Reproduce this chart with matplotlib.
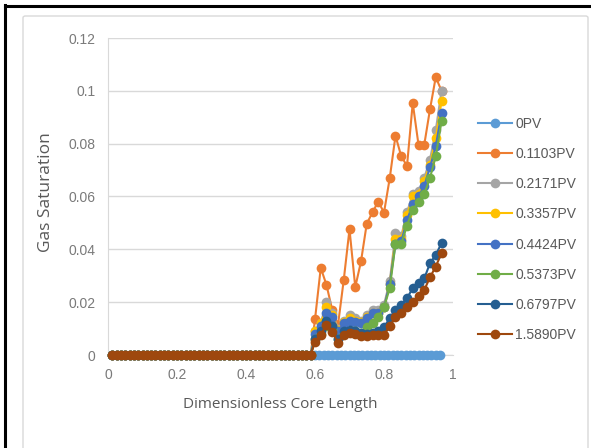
import matplotlib.pyplot as plt
from matplotlib.patches import FancyBboxPatch
from matplotlib.lines import Line2D

# grid positions: fine step before the front, coarser step behind it
x_head = [round(0.0125 * k, 4) for k in range(1, 48)]          # 0.0125 .. 0.5875
x_tail_fine = [round(0.6 + 0.0125 * k, 4) for k in range(30)]  # 0.6 .. 0.9625
x_tail = [round(0.6 + k / 60, 4) for k in range(23)]           # 0.6 .. 0.9667

labels = ["0PV", "0.1103PV", "0.2171PV", "0.3357PV",
          "0.4424PV", "0.5373PV", "0.6797PV", "1.5890PV"]
colors = ["#5B9BD5", "#ED7D31", "#A5A5A5", "#FFC000",
          "#4472C4", "#70AD47", "#255E91", "#9E480E"]

# gas saturation behind x = 0.6
tail_0pv = [0.0] * 30
tail_01103 = [0.0135, 0.033, 0.0265, 0.017, 0.0114, 0.0284, 0.0476, 0.0257, 0.0354, 0.0497,
              0.054, 0.0581, 0.0539, 0.067, 0.083, 0.0752, 0.0716, 0.0954, 0.0796, 0.0796,
              0.093, 0.1052, 0.100]
tail_02171 = [0.009, 0.012, 0.020, 0.016, 0.010, 0.013, 0.015, 0.014, 0.013, 0.015,
              0.017, 0.017, 0.019, 0.028, 0.046, 0.045, 0.054, 0.061, 0.062, 0.067,
              0.074, 0.085, 0.100]
tail_03357 = [0.009, 0.012, 0.018, 0.015, 0.0095, 0.0125, 0.014, 0.013, 0.0125, 0.0145,
              0.016, 0.016, 0.018, 0.027, 0.044, 0.044, 0.053, 0.060, 0.061, 0.066,
              0.072, 0.082, 0.096]
tail_04424 = [0.008, 0.011, 0.016, 0.0145, 0.009, 0.012, 0.013, 0.0125, 0.012, 0.014,
              0.016, 0.016, 0.018, 0.027, 0.042, 0.043, 0.051, 0.057, 0.060, 0.064,
              0.071, 0.079, 0.0916]
tail_05373 = [0.006, 0.008, 0.011, 0.010, 0.006, 0.008, 0.009, 0.009, 0.0085, 0.0107,
              0.012, 0.0145, 0.018, 0.0253, 0.042, 0.042, 0.049, 0.055, 0.058, 0.061,
              0.067, 0.0752, 0.0884]
tail_06797 = [0.006, 0.009, 0.013, 0.011, 0.006, 0.009, 0.0095, 0.009, 0.0085, 0.008,
              0.0085, 0.009, 0.0105, 0.0139, 0.0171, 0.019, 0.0215, 0.0253, 0.0272, 0.029,
              0.0347, 0.0379, 0.0423]
tail_15890 = [0.005, 0.0076, 0.0114, 0.0088, 0.0047, 0.0076, 0.0082, 0.008, 0.0072, 0.0072,
              0.0076, 0.0076, 0.0076, 0.011, 0.0143, 0.0158, 0.018, 0.0202, 0.0224, 0.0246,
              0.0294, 0.0335, 0.0385]

tails = [tail_0pv, tail_01103, tail_02171, tail_03357,
         tail_04424, tail_05373, tail_06797, tail_15890]

x_ticks = [0, 0.2, 0.4, 0.6, 0.8, 1]
x_tick_labels = ["0", "0.2", "0.4", "0.6", "0.8", "1"]
y_ticks = [0, 0.02, 0.04, 0.06, 0.08, 0.1, 0.12]
y_tick_labels = ["0", "0.02", "0.04", "0.06", "0.08", "0.1", "0.12"]

tick_font = ["Liberation Sans", "DejaVu Sans"]
label_font = ["Open Sans", "DejaVu Sans"]
text_gray = "#595959"

fig = plt.figure(figsize=(5.91, 4.48), dpi=100)

# outer frame: light grey chart area box, black lines on top and left
fig.add_artist(FancyBboxPatch((23 / 591, -0.02), (588 - 23) / 591, (448 - 16) / 448 + 0.02,
                              boxstyle="round,pad=0,rounding_size=0.004",
                              fc="none", ec="#D9D9D9", lw=1.0,
                              transform=fig.transFigure, zorder=-1))
fig.add_artist(Line2D([5 / 591, 5 / 591], [0, 1 - 5 / 448], color="black", lw=2.2))
fig.add_artist(Line2D([5 / 591, 1], [1 - 6 / 448, 1 - 6 / 448], color="black", lw=2.2))

ax = fig.add_axes([108 / 591, (448 - 355) / 448, 345 / 591, 317 / 448])
ax.set_facecolor("none")

for label, color, tail in zip(labels, colors, tails):
    xs = x_head + (x_tail_fine if len(tail) == len(x_tail_fine) else x_tail)
    y = [0.0] * len(x_head) + tail
    ax.plot(xs, y, color=color, lw=1.5, marker="o", markersize=7,
            markeredgewidth=0, label=label, clip_on=False, zorder=3)

ax.set_xlim(0, 1)
ax.set_ylim(0, 0.12)
ax.set_xticks(x_ticks)
ax.set_xticklabels(x_tick_labels)
ax.set_yticks(y_ticks)
ax.set_yticklabels(y_tick_labels)
ax.tick_params(length=0, colors="#7A7A7A", labelsize=10, pad=9)
for t in ax.get_xticklabels() + ax.get_yticklabels():
    t.set_family(tick_font)

ax.grid(True, axis="y", color="#D9D9D9", lw=1.0)
ax.set_axisbelow(True)
for side in ["top", "right"]:
    ax.spines[side].set_visible(False)
ax.spines["left"].set_color("#D9D9D9")
ax.spines["bottom"].set_color("#D9D9D9")

ax.set_xlabel("Dimensionless Core Length", fontsize=11, color=text_gray,
              family=label_font)
ax.set_ylabel("Gas Saturation", fontsize=12.5, color=text_gray,
              family=label_font)
ax.xaxis.set_label_coords(0.5, (355 - 397) / 317)
ax.yaxis.set_label_coords((54 - 108) / 345, (355 - 192) / 317)

leg = fig.legend(loc="upper left", bbox_to_anchor=(472 / 591, 1 - 111 / 448),
                 frameon=False, fontsize=10, labelspacing=1.17,
                 handlelength=2.5, handletextpad=0.2, borderaxespad=0)
for t in leg.get_texts():
    t.set_color(text_gray)
    t.set_family(tick_font)

fig.savefig("out.png", dpi=100)
